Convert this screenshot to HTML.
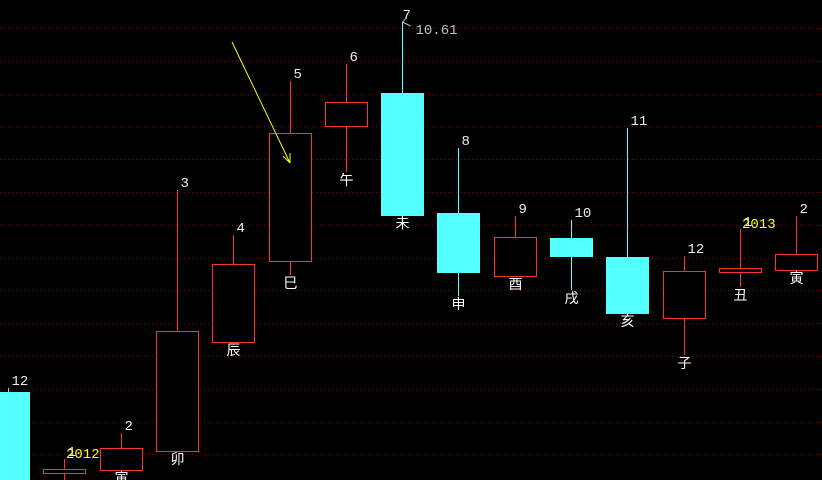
<!DOCTYPE html>
<html><head><meta charset="utf-8">
<style>
html,body{margin:0;padding:0;background:#000;overflow:hidden;width:822px;height:480px;}
svg{display:block;overflow:hidden;}
text{font-family:"Liberation Mono","Noto Sans CJK SC",monospace;}
</style></head>
<body>
<svg id="chart" width="822" height="480" viewBox="0 0 822 480" xmlns="http://www.w3.org/2000/svg"></svg>
<script>
const months = ["12","1","2","3","4","5","6","7","8","9","10","11","12","1","2"];
const branches = ["子","丑","寅","卯","辰","巳","午","未","申","酉","戌","亥","子","丑","寅"];
const opens  = [4.44,3.09,3.14,3.46,5.28,6.63,8.88,9.43,7.43,6.38,7.01,6.69,5.68,6.46,6.48];
const closes = [2.81,3.16,3.51,5.46,6.58,8.76,9.28,7.39,6.44,7.03,6.71,5.76,6.46,6.51,6.74];
const highs  = [4.51,3.33,3.76,7.81,7.06,9.63,9.91,10.61,8.51,7.38,7.31,8.84,6.71,7.16,7.38];
const lows   = [2.64,2.89,3.14,3.46,5.28,6.39,8.11,7.39,6.04,6.38,6.14,5.76,5.06,6.19,6.48];
const years = [{i:1,label:"2012"},{i:13,label:"2013"}];
const maxLabel = "10.61";

const svg = document.getElementById('chart');
const NS = "http://www.w3.org/2000/svg";
function y(p){ return 22 + (10.61 - p) * 60; }
function x(i){ return 8 + 56.3 * i; }
function mk(tag, attrs){ const e=document.createElementNS(NS,tag); for(const k in attrs) e.setAttribute(k,attrs[k]); svg.appendChild(e); return e; }

for(let k=0;k<14;k++){
  const gy = Math.round(28 + 32.8*k) + 0.5;
  const g = mk('line',{x1:0,x2:822,y1:gy,y2:gy,stroke:'#8c0000','stroke-width':1,'stroke-dasharray':'1 3','shape-rendering':'crispEdges'});
  
  
}

const hw = 21;
for(let i=0;i<opens.length;i++){
  const cx = Math.round(x(i))+0.5;
  const up = closes[i] >= opens[i];
  const col = up ? '#ff3232' : '#54ffff';
  const top = Math.round(y(Math.max(opens[i],closes[i])))+0.5;
  const bot = Math.round(y(Math.min(opens[i],closes[i])))+0.5;
  const w = mk('line',{x1:cx,x2:cx,y1:y(highs[i]),y2:y(lows[i]),stroke:col,'stroke-width':1,'shape-rendering':'crispEdges'});
  
  
  const b = mk('rect',{x:cx-hw,y:top,width:hw*2,height:Math.max(bot-top,4),fill:up?'#000':col,stroke:col,'stroke-width':1,'shape-rendering':'crispEdges'});
  
  
  const t = mk('text',{x:cx+3,y:y(highs[i])-3,fill:'#ececec','font-size':14});
  t.textContent = months[i];
  
  
  if(i===7){ t.setAttribute('x',cx); }
  const c = mk('text',{x:cx,y:y(lows[i])+13,fill:'#ffffff','font-size':14,'text-anchor':'middle'});
  c.textContent = branches[i];
  
  
}
years.forEach(yr=>{
  const t = mk('text',{x:Math.round(x(yr.i))+2,y:y(highs[yr.i])-1,fill:'#ffff00','font-size':14});
  t.textContent = yr.label;
  
  
});
const mx = Math.round(x(7))+0.5, my = y(10.61);
const al = mk('path',{d:`M${mx} ${my} l8 4 M${mx} ${my} l3 -3`,stroke:'#c0c0c0',fill:'none','stroke-width':1});


const mt = mk('text',{x:mx+13,y:my+12,fill:'#c0c0c0','font-size':14});
mt.textContent = maxLabel;


const ar = mk('path',{d:'M232 42 L290 163 M290 163 L283 156 M290 163 L290 153',stroke:'#ffff00',fill:'none','stroke-width':1});


</script>
</body></html>
